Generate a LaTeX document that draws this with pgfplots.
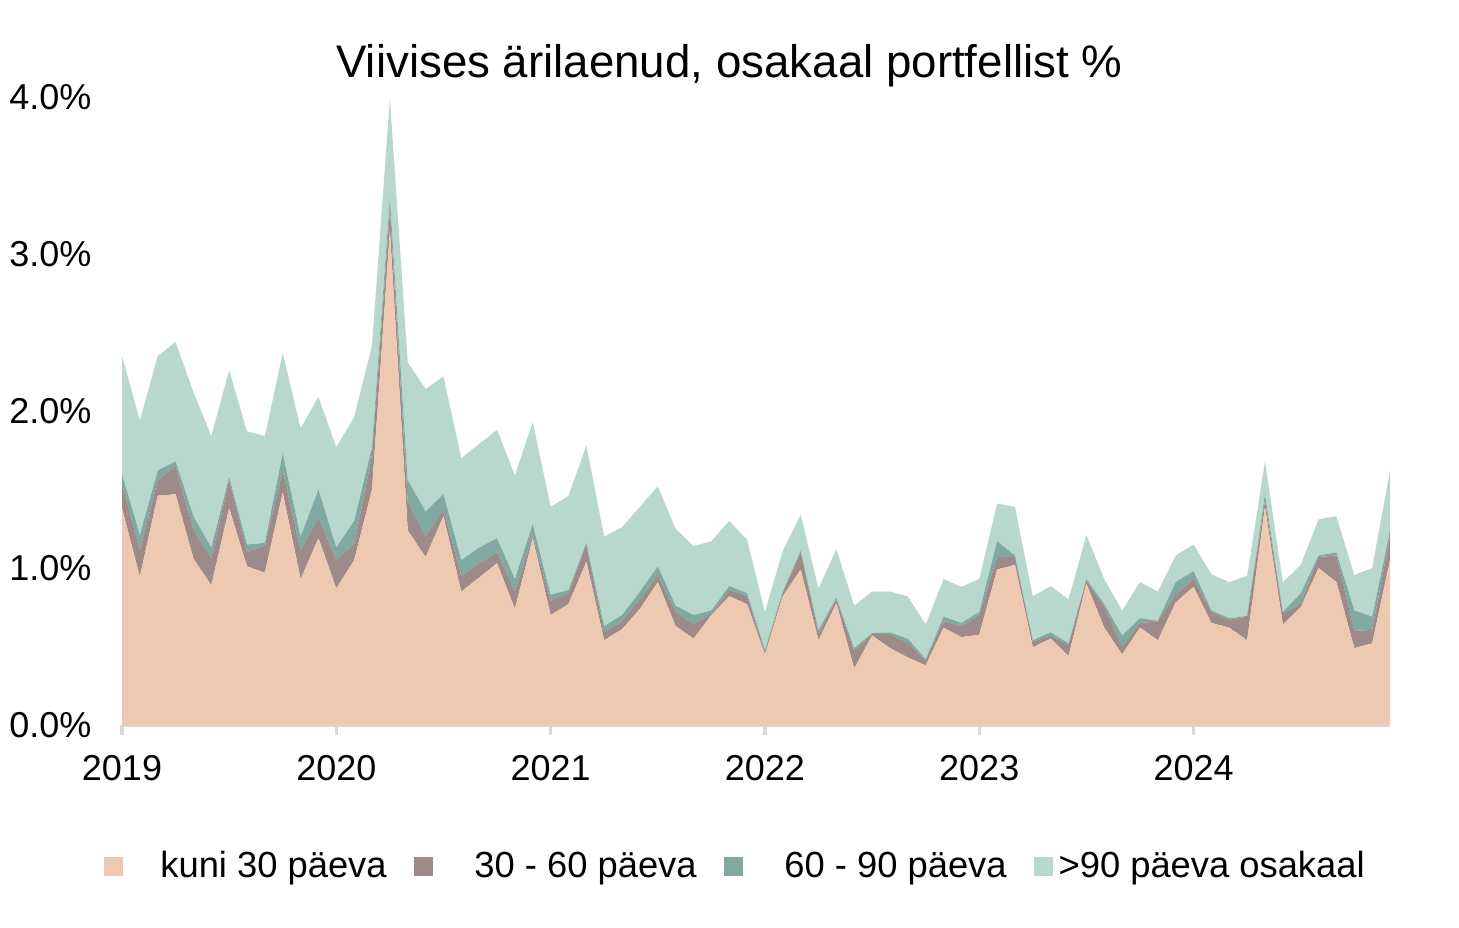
\documentclass[border=0pt]{standalone}
\usepackage{fontspec}
\setmainfont{Liberation Sans}
\usepackage{pgfplots}
\usepackage{pgfplotstable}
\pgfplotsset{compat=1.18}
\definecolor{cK}{HTML}{ECC9B0}
\definecolor{cA}{HTML}{9E8A88}
\definecolor{cB}{HTML}{80A9A1}
\definecolor{cD}{HTML}{B8D8CD}
\definecolor{axgray}{HTML}{D9D9D9}

\pgfplotstableread{
i k a b d
0 1.38 0.16 0.06 0.75
1 0.945 0.165 0.10 0.73
2 1.46 0.10 0.06 0.73
3 1.47 0.18 0.03 0.76
4 1.06 0.18 0.09 0.79
5 0.89 0.17 0.07 0.71
6 1.38 0.18 0.02 0.68
7 1.01 0.09 0.05 0.72
8 0.97 0.17 0.02 0.68
9 1.48 0.14 0.11 0.64
10 0.93 0.18 0.09 0.69
11 1.19 0.13 0.18 0.59
12 0.87 0.18 0.08 0.64
13 1.05 0.10 0.15 0.66
14 1.50 0.22 0.05 0.65
15 3.15 0.13 0.08 0.63
16 1.24 0.18 0.14 0.75
17 1.07 0.13 0.16 0.78
18 1.33 0.04 0.10 0.75
19 0.85 0.10 0.10 0.65
20 0.94 0.09 0.10 0.66
21 1.03 0.07 0.09 0.69
22 0.74 0.11 0.08 0.66
23 1.19 0.02 0.07 0.65
24 0.70 0.09 0.04 0.56
25 0.77 0.07 0.02 0.60
26 1.04 0.11 0.01 0.62
27 0.54 0.05 0.04 0.57
28 0.61 0.05 0.04 0.56
29 0.74 0.06 0.05 0.54
30 0.91 0.045 0.055 0.51
31 0.63 0.09 0.04 0.49
32 0.55 0.09 0.06 0.44
33 0.70 0.01 0.02 0.44
34 0.82 0.04 0.025 0.415
35 0.77 0.05 0.02 0.34
36 0.45 0.02 0.01 0.24
37 0.82 0.02 0.01 0.26
38 0.99 0.11 0.01 0.23
39 0.54 0.04 0.025 0.265
40 0.775 0.025 0.01 0.31
41 0.36 0.11 0.02 0.27
42 0.57 0.01 0.005 0.265
43 0.49 0.09 0.01 0.26
44 0.43 0.09 0.03 0.27
45 0.38 0.03 0.01 0.22
46 0.62 0.04 0.03 0.24
47 0.56 0.07 0.02 0.23
48 0.575 0.125 0.02 0.21
49 0.99 0.08 0.10 0.24
50 1.02 0.05 0.01 0.31
51 0.495 0.035 0.01 0.28
52 0.55 0.02 0.02 0.295
53 0.44 0.07 0.01 0.28
54 0.90 0.02 0.01 0.28
55 0.62 0.13 0.02 0.16
56 0.45 0.05 0.07 0.16
57 0.62 0.03 0.03 0.23
58 0.54 0.12 0.005 0.185
59 0.78 0.05 0.08 0.17
60 0.88 0.05 0.05 0.17
61 0.65 0.07 0.01 0.23
62 0.62 0.05 0.01 0.23
63 0.54 0.15 0.005 0.255
64 1.39 0.04 0.04 0.21
65 0.64 0.07 0.01 0.19
66 0.75 0.025 0.065 0.18
67 1.00 0.07 0.01 0.23
68 0.91 0.17 0.02 0.23
69 0.49 0.11 0.13 0.225
70 0.52 0.085 0.085 0.31
71 1.05 0.15 0.04 0.38
}\datatable

\begin{document}
\begin{tikzpicture}
\begin{axis}[
  scale only axis, width=380.4pt, height=188.4pt,
  xmin=0, xmax=71, ymin=0, ymax=4,
  stack plots=y,
  axis x line=bottom, axis y line=left,
  y axis line style={draw=none},
  x axis line style={-, draw=axgray, line width=1pt},
  xtick={0,12,24,36,48,60},
  xticklabels={2019,2020,2021,2022,2023,2024},
  ytick={0,1,2,3,4},
  /pgf/number format/assume math mode=true,
  yticklabel={\pgfmathprintnumber[fixed,fixed zerofill,precision=1]{\tick}\%},
  tick align=outside,
  major tick length=3pt,
  xtick style={draw=axgray, line width=1pt},
  ytick style={draw=none},
  tick label style={font=\fontsize{10.8}{13}\selectfont},
  yticklabel style={anchor=east, inner sep=0pt, xshift=-6pt},
  xticklabel style={anchor=north, inner sep=0pt, yshift=-6pt},
  title={Viivises ärilaenud, osakaal portfellist \%},
  title style={at={(0.479,1)}, anchor=base, yshift=0pt, inner sep=0pt, font=\fontsize{13.7}{16}\selectfont},
  legend columns=4,
  legend style={at={(-0.015,-0.226)}, anchor=west, draw=none, fill=none, inner sep=0pt,
    font=\fontsize{10.9}{13}\selectfont,
    nodes={inner sep=0pt},
    /tikz/every even column/.append style={column sep=8.1pt}},
  legend image code/.code={\fill[#1] (0pt,-2.85pt) rectangle (5.7pt,2.85pt);},
  clip=false,
]
\addplot[fill=cK, draw=none] table[x=i,y=k]{\datatable} \closedcycle;
\addlegendentry{\makebox[79.2pt][r]{kuni 30 päeva}}
\addplot[fill=cA, draw=none] table[x=i,y=a]{\datatable} \closedcycle;
\addlegendentry{\makebox[79.2pt][r]{30 - 60 päeva}}
\addplot[fill=cB, draw=none] table[x=i,y=b]{\datatable} \closedcycle;
\addlegendentry{\makebox[79.2pt][r]{60 - 90 päeva}}
\addplot[fill=cD, draw=none] table[x=i,y=d]{\datatable} \closedcycle;
\addlegendentry{\hspace{1.8pt}>90 päeva osakaal}
\end{axis}
\pgfresetboundingbox
\path[use as bounding box] (-36.6pt,-60.6pt) rectangle (401.1pt,217.5pt);
\end{tikzpicture}
\end{document}
